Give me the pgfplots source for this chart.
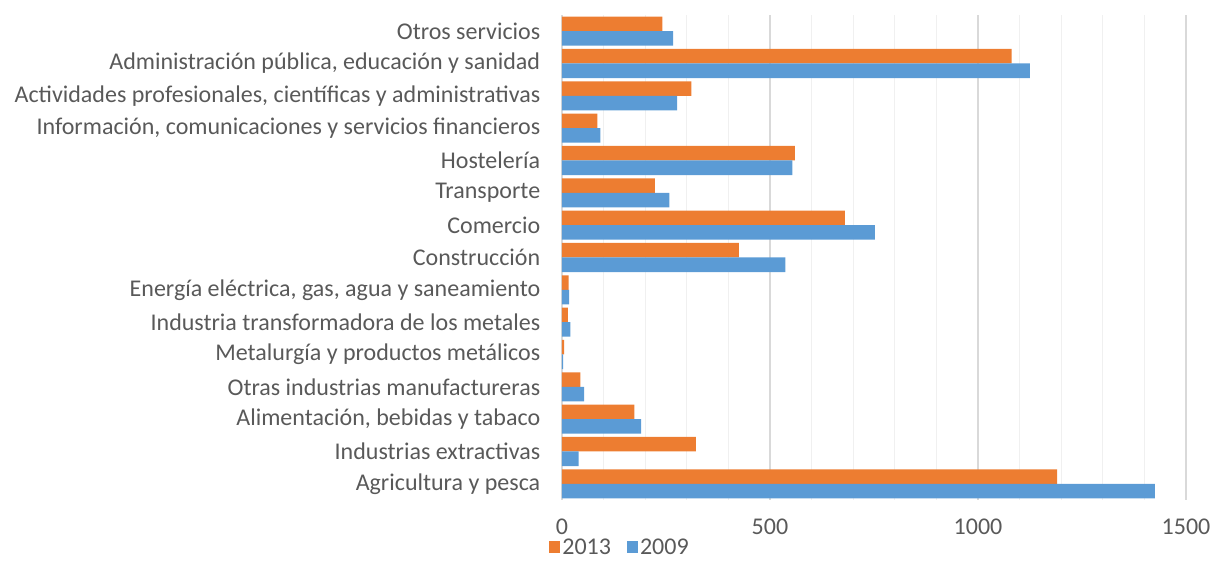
\documentclass[border=0pt]{standalone}
\usepackage{fontspec}
\setmainfont{Carlito}
\usepackage{pgfplots}
\pgfplotsset{compat=1.18}
\definecolor{c2013}{HTML}{ED7D31}
\definecolor{c2009}{HTML}{5B9BD5}
\definecolor{txt}{HTML}{595959}
\definecolor{majgrid}{HTML}{D9D9D9}
\definecolor{mingrid}{HTML}{F0F0F0}
\begin{document}
\begin{tikzpicture}
\useasboundingbox (-562bp,-61bp) rectangle (648bp,500bp);
\begin{axis}[
  at={(0,0)}, anchor=south west,
  scale only axis,
  width=624bp, height=485bp,
  xbar, bar width=0.45,
  xmin=0, xmax=1500,
  ymin=-0.5, ymax=14.5,
  xtick={0,500,1000,1500},
  minor xtick={100,200,300,400,600,700,800,900,1100,1200,1300,1400},
  ytick={0,...,14},
  yticklabels={Agricultura y pesca, Industrias extractivas, {Alimentación, bebidas y tabaco}, Otras industrias manufactureras, Metalurgía y productos metálicos, Industria transformadora de los metales, {Energía eléctrica, gas, agua y saneamiento}, Construcción, Comercio\ , Transporte\ , Hostelería, {Información, comunicaciones y servicios financieros}, {Actividades profesionales, científicas y administrativas}, {Administración pública, educación y sanidad}, Otros servicios},
  axis line style={draw=none},
  tick style={draw=none},
  xmajorgrids, xminorgrids,
  major grid style={majgrid, line width=1.4pt},
  minor grid style={mingrid, line width=1.2pt},
  tick label style={font=\fontsize{24bp}{26bp}\selectfont, text=txt},
  /pgf/number format/assume math mode=true,
  /pgf/number format/1000 sep={},
  xticklabel style={yshift=-15bp},
  yticklabel style={xshift=-14bp},
  legend style={at={(0.093,-0.097)}, anchor=center, draw=none, fill=none,
    legend columns=2, font=\fontsize{24bp}{26bp}\selectfont, text=txt,
    inner sep=0pt,
    /tikz/every even column/.append style={column sep=14bp}},
  legend image code/.code={\fill[#1] (0bp,-6bp) rectangle (11bp,6bp);},
]
\addplot[fill=c2013, draw=none, bar shift=0.225] coordinates {
  (1190,0) (322,1) (174,2) (44,3) (5,4) (14,5) (16,6) (425,7)
  (680,8) (223,9) (560,10) (85,11) (311,12) (1081,13) (241,14)
};
\addlegendentry{2013}
\addplot[fill=c2009, draw=none, bar shift=-0.225] coordinates {
  (1425,0) (40,1) (190,2) (53,3) (3,4) (20,5) (17,6) (537,7)
  (752,8) (258,9) (554,10) (92,11) (277,12) (1125,13) (267,14)
};
\addlegendentry{2009}
\end{axis}
\end{tikzpicture}
\end{document}
